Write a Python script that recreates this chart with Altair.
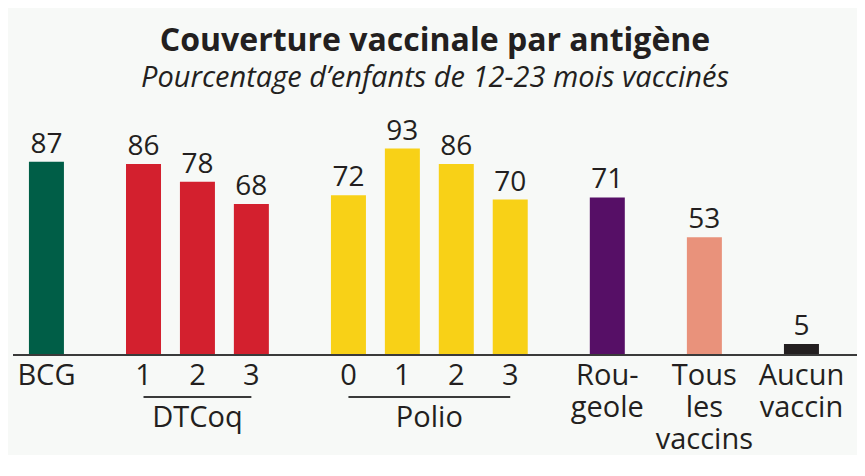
import altair as alt
import pandas as pd

# ---- data ----
labels = ["BCG", "1", "2", "3", "0", "1", "2", "3", "Rou-\ngeole", "Tous\nles\nvaccins", "Aucun\nvaccin"]
values = [87, 86, 78, 68, 72, 93, 86, 70, 71, 53, 5]
groups = ["BCG", "DTCoq", "DTCoq", "DTCoq", "Polio", "Polio", "Polio", "Polio", "Rougeole", "Tous", "Aucun"]
group_colors = {
    "BCG": "#005e47",
    "DTCoq": "#d3202e",
    "Polio": "#f8d117",
    "Rougeole": "#560f66",
    "Tous": "#e9927b",
    "Aucun": "#231f20",
}
group_captions = ["DTCoq", "Polio"]

TXT = "#231f20"
FONT = "Open Sans"

# slot positions: 1 step within a group, wider gap between groups
pos = []
p = 0.0
for i, g in enumerate(groups):
    if i > 0:
        p += 1.0 if g == groups[i - 1] else 1.8
    pos.append(p)

df = pd.DataFrame({
    "label": labels,
    "value": values,
    "group": groups,
    "color": [group_colors[g] for g in groups],
    "pos": pos,
})

gdf = (
    df[df["group"].isin(group_captions)]
    .groupby("group", as_index=False)
    .agg(start=("pos", "min"), end=("pos", "max"))
)
gdf["mid"] = (gdf["start"] + gdf["end"]) / 2

xscale = alt.Scale(domain=[-0.62, 15.03], nice=False, zero=False, padding=0)
yscale = alt.Scale(domain=[0, 100], nice=False)
X = alt.X("pos:Q", scale=xscale, axis=None)
Y = alt.Y("value:Q", scale=yscale, axis=None)

base = alt.Chart(df)

bars = base.mark_bar(size=35).encode(
    x=X, y=Y, color=alt.Color("color:N", scale=None)
)

vals = base.mark_text(
    baseline="alphabetic", dy=-9, font=FONT, fontSize=28, color=TXT
).encode(x=X, y=Y, text="value:Q")

ticks = base.mark_text(
    baseline="alphabetic", dy=30, font=FONT, fontSize=29, color=TXT,
    lineBreak="\n", lineHeight=32
).encode(x=X, y=alt.datum(0), text="label:N")

baseline = alt.Chart(pd.DataFrame({"v": [0]})).mark_rule(
    color="#3a3a3a", strokeWidth=2
).encode(y=alt.Y("v:Q", scale=yscale, axis=None))

glines = alt.Chart(gdf).mark_rule(
    color="#3a3a3a", strokeWidth=2, yOffset=42
).encode(
    x=alt.X("start:Q", scale=xscale, axis=None),
    x2="end:Q",
    y=alt.datum(0),
)

gtext = alt.Chart(gdf).mark_text(
    baseline="alphabetic", dy=72, font=FONT, fontSize=29, color=TXT
).encode(
    x=alt.X("mid:Q", scale=xscale, axis=None),
    y=alt.datum(0),
    text="group:N",
)

chart = alt.layer(bars, vals, baseline, ticks, glines, gtext).properties(
    width=844,
    height=222,
    background="#f7f9f7",
    padding={"left": 5, "top": 125, "right": 0, "bottom": 100},
    autosize=alt.AutoSizeParams(type="none"),
    title=alt.TitleParams(
        text="Couverture vaccinale par antigène",
        subtitle="Pourcentage d’enfants de 12-23 mois vaccinés",
        anchor="middle",
        font=FONT,
        fontSize=32,
        fontWeight="bold",
        color=TXT,
        subtitleFont=FONT,
        subtitleFontSize=29,
        subtitleFontStyle="italic",
        subtitleColor=TXT,
        subtitlePadding=6,
        offset=24,
    ),
).configure_view(stroke=None)

chart.save("out.html", embed_options={"renderer": "svg", "actions": False})
